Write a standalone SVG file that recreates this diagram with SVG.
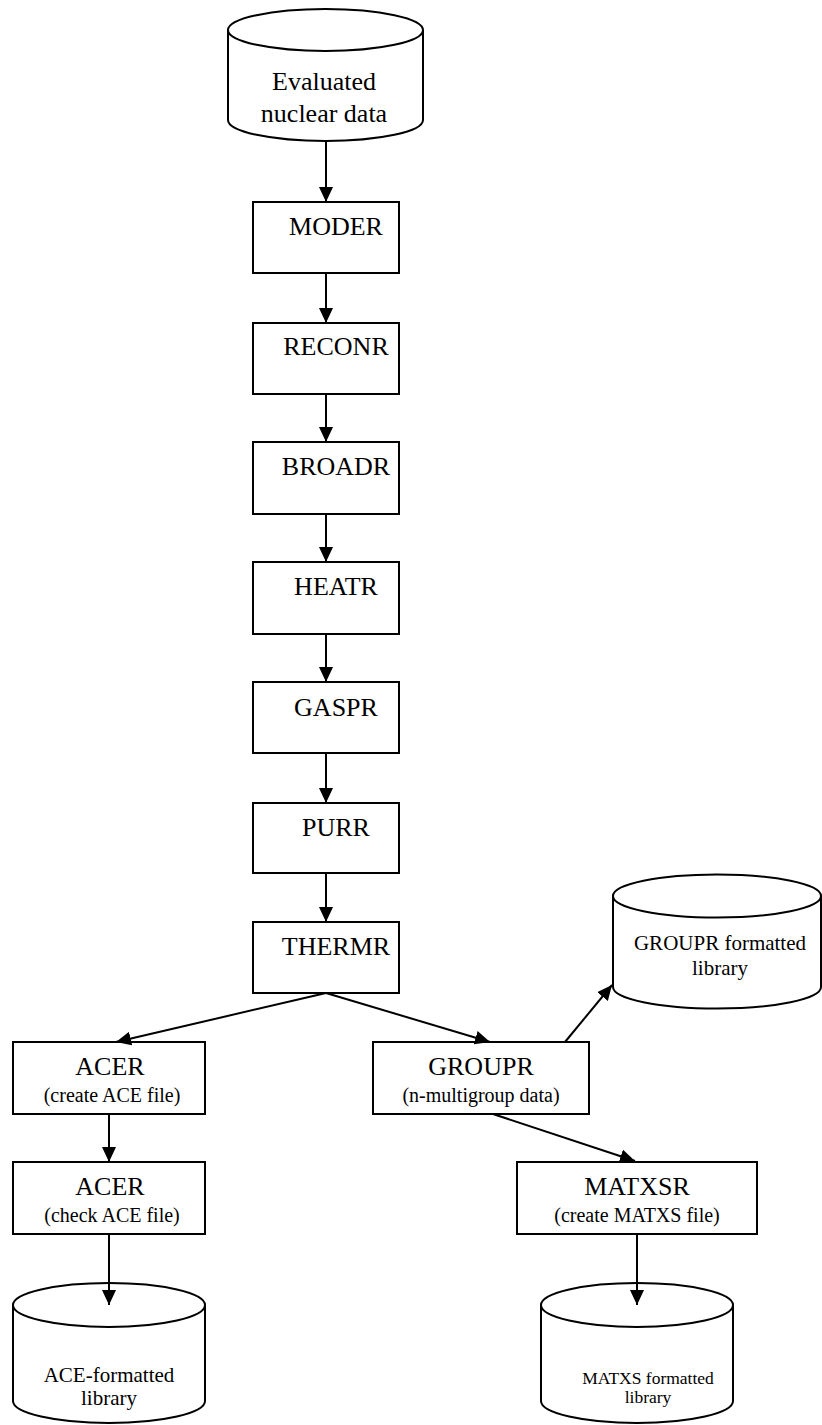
<svg xmlns="http://www.w3.org/2000/svg" width="822" height="1425" viewBox="0 0 822 1425">
<style>
.box{fill:#fff;stroke:#000;stroke-width:2}
.cyl{fill:#fff;stroke:#000;stroke-width:2}
.t{font-family:"Liberation Serif","Times New Roman",serif;fill:#000;text-anchor:middle}
.big{font-size:26px}
.sub{font-size:20px}
.lib{font-size:21px}
.con{stroke:#000;stroke-width:2;fill:none;marker-end:url(#ah)}
</style>
<defs>
<marker id="ah" markerUnits="userSpaceOnUse" markerWidth="16" markerHeight="14" refX="15" refY="7" orient="auto">
<path d="M0,0 L15,7 L0,14 z" fill="#000"/>
</marker>
</defs>
<rect width="822" height="1425" fill="#fff"/>
<g id="evaluated">
<path class="cyl" d="M228,30 V120 A97.5,21 0 0 0 423,120 V30"/>
<ellipse class="cyl" cx="325.5" cy="30" rx="97.5" ry="21"/>
<text class="t big" x="324" y="90">Evaluated</text>
<text class="t big" x="324" y="122">nuclear data</text>
</g>
<g id="moder"><rect class="box" x="253" y="202" width="146" height="71"/><text class="t big" x="336" y="235">MODER</text></g>
<g id="reconr"><rect class="box" x="253" y="323" width="146" height="71"/><text class="t big" x="336" y="355">RECONR</text></g>
<g id="broadr"><rect class="box" x="253" y="442" width="146" height="72"/><text class="t big" x="336" y="475">BROADR</text></g>
<g id="heatr"><rect class="box" x="253" y="562" width="146" height="72"/><text class="t big" x="336" y="595">HEATR</text></g>
<g id="gaspr"><rect class="box" x="253" y="682" width="146" height="71"/><text class="t big" x="336" y="716">GASPR</text></g>
<g id="purr"><rect class="box" x="253" y="803" width="146" height="70"/><text class="t big" x="336" y="836">PURR</text></g>
<g id="thermr"><rect class="box" x="253" y="922" width="146" height="71"/><text class="t big" x="336" y="955">THERMR</text></g>
<g id="groupr-lib">
<path class="cyl" d="M613,896 V987 A104,21.5 0 0 0 821,987 V896"/>
<ellipse class="cyl" cx="717" cy="896" rx="104" ry="21.5"/>
<text class="t lib" x="720" y="950">GROUPR formatted</text>
<text class="t lib" x="720" y="975">library</text>
</g>
<g id="acer1"><rect class="box" x="13" y="1042" width="192" height="72"/><text class="t big" x="110" y="1075">ACER</text><text class="t sub" x="112" y="1102">(create ACE file)</text></g>
<g id="groupr"><rect class="box" x="373" y="1042" width="216" height="72"/><text class="t big" x="481" y="1075">GROUPR</text><text class="t sub" x="481" y="1102">(n-multigroup data)</text></g>
<g id="acer2"><rect class="box" x="13" y="1162" width="192" height="72"/><text class="t big" x="110" y="1195">ACER</text><text class="t sub" x="112" y="1222">(check ACE file)</text></g>
<g id="matxsr"><rect class="box" x="517" y="1162" width="240" height="72"/><text class="t big" x="637" y="1195">MATXSR</text><text class="t sub" x="637" y="1222">(create MATXS file)</text></g>
<g id="ace-lib">
<path class="cyl" d="M13,1305 V1401 A96,22 0 0 0 205,1401 V1305"/>
<ellipse class="cyl" cx="109" cy="1305" rx="96" ry="22"/>
<text class="t lib" x="109" y="1382">ACE-formatted</text>
<text class="t lib" x="109" y="1405">library</text>
</g>
<g id="matxs-lib">
<path class="cyl" d="M541,1305 V1401 A96,22 0 0 0 733,1401 V1305"/>
<ellipse class="cyl" cx="637" cy="1305" rx="96" ry="22"/>
<text class="t" style="font-size:17.5px" x="648" y="1384">MATXS formatted</text>
<text class="t" style="font-size:17.5px" x="648" y="1403">library</text>
</g>
<g id="connectors">
<line class="con" x1="326" y1="141" x2="326" y2="202"/>
<line class="con" x1="326" y1="273" x2="326" y2="323"/>
<line class="con" x1="326" y1="394" x2="326" y2="442"/>
<line class="con" x1="326" y1="514" x2="326" y2="562"/>
<line class="con" x1="326" y1="634" x2="326" y2="682"/>
<line class="con" x1="326" y1="753" x2="326" y2="803"/>
<line class="con" x1="326" y1="873" x2="326" y2="922"/>
<line class="con" x1="326" y1="993" x2="116" y2="1042"/>
<line class="con" x1="326" y1="993" x2="490" y2="1042"/>
<line class="con" x1="565" y1="1042" x2="612" y2="985"/>
<line class="con" x1="109" y1="1114" x2="109" y2="1162"/>
<line class="con" x1="493" y1="1114" x2="635" y2="1161"/>
<line class="con" x1="109" y1="1234" x2="109" y2="1305"/>
<line class="con" x1="637" y1="1234" x2="637" y2="1305"/>
</g>
</svg>
